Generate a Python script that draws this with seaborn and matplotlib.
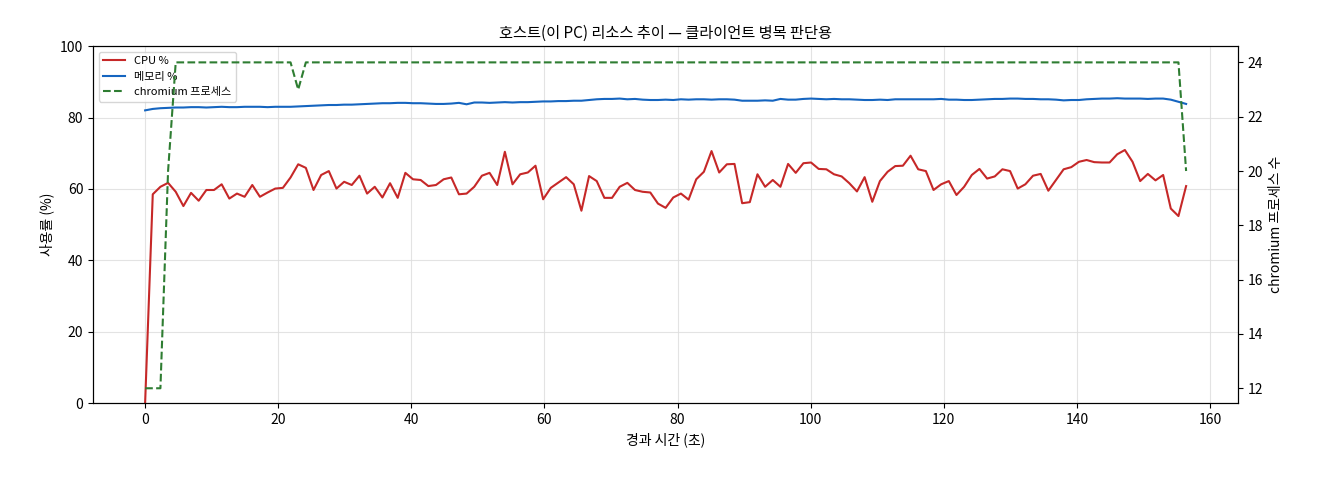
import numpy as np
import pandas as pd
import matplotlib
matplotlib.use("Agg")
import matplotlib.pyplot as plt
import seaborn as sns

cpu = [0, 58.5,60.6,61.7,59.2,55.2,58.9,56.7,59.7,59.7,61.3,57.3,58.7,57.8,61.1,57.8,59,60.1,60.3,63.2,66.9,65.9,59.7,63.9,65,60.1,62,61.1,63.7,58.7,60.6,57.6,61.6,57.5,64.5,62.7,62.5,60.8,61.1,62.7,63.2,58.5,58.7,
       60.6,63.7,64.5,61.1,70.4,61.3,64.1,64.6,66.5,57.1,60.3,61.8,63.3,61.3,53.9,63.6,62.2,57.5,57.5,60.6,61.7,59.7,59.2,59,55.9,54.7,57.6,58.7,57,62.7,64.8,70.6,64.6,66.9,67,56,56.3,64.1,60.6,62.5,60.6,67,64.5,67.2,67.4,65.6,65.5,
       64.1,63.5,61.6,59.3,63.3,56.4,62.2,64.8,66.4,66.5,69.3,65.5,65,59.7,61.3,62.2,58.3,60.6,63.9,65.6,62.9,63.5,65.5,65,60.1,61.3,63.7,64.2,59.5,62.5,65.5,66.1,67.6,68.1,67.5,67.4,67.4,69.7,70.9,67.6,62.2,64.2,62.4,63.9,54.5,52.4,60.8]
mem = [82.0,82.4,82.6,82.7,82.8,82.8,82.9,82.9,82.8,82.9,83.0,82.9,82.9,83.0,83.0,83.0,82.9,83.0,83.0,83.0,
       83.1,83.2,83.3,83.4,83.5,83.5,83.6,83.6,83.7,83.8,83.9,84.0,84.0,84.1,84.1,84.0,84.0,83.9,83.8,83.8,
       83.9,84.1,83.7,84.2,84.2,84.1,84.2,84.3,84.2,84.3,84.3,84.4,84.5,84.5,84.6,84.6,84.7,84.7,84.9,85.1,
       85.2,85.2,85.3,85.1,85.2,85.0,84.9,84.9,85.0,84.9,85.1,85.0,85.1,85.1,85.0,85.1,85.1,85.0,84.7,84.7,
       84.7,84.8,84.7,85.2,85.0,85.0,85.2,85.3,85.2,85.1,85.2,85.1,85.1,85.0,84.9,84.9,85.0,84.9,85.1,85.1,
       85.1,85.1,85.1,85.1,85.2,85.0,85.0,84.9,84.9,85.0,85.1,85.2,85.2,85.3,85.3,85.2,85.2,85.1,85.1,85.0,
       84.8,84.9,84.9,85.1,85.2,85.3,85.3,85.4,85.3,85.3,85.3,85.2,85.3,85.3,85.0,84.4,83.8]
chromium = [12,12,12,20] + [24]*16 + [23] + [24]*115 + [20]
t_end = 156.4

n = len(cpu)
elapsed = np.linspace(0, t_end, n)
df = pd.DataFrame({"t": elapsed, "cpu": cpu, "mem": mem[:n], "chr": chromium[:n]})

plt.rcParams['font.family'] = ['Noto Sans CJK KR', 'DejaVu Sans']
plt.rcParams['axes.unicode_minus'] = False

fig, ax = plt.subplots(figsize=(13.2, 4.8), dpi=100)
fig.subplots_adjust(left=0.0705, right=0.938, top=0.904, bottom=0.16)
sns.lineplot(data=df, x="t", y="cpu", ax=ax, color="#c62828", lw=1.5, label="CPU %")
sns.lineplot(data=df, x="t", y="mem", ax=ax, color="#1565c0", lw=1.5, label="메모리 %")
ax2 = ax.twinx()
sns.lineplot(data=df, x="t", y="chr", ax=ax2, color="#2e7d32", lw=1.5, linestyle="--", label="chromium 프로세스")
ax.set_ylim(0, 100)
ax2.set_ylim(11.45, 24.6)
ax2.set_yticks([12, 14, 16, 18, 20, 22, 24])
ax.grid(True, color="#dddddd", lw=0.8, alpha=0.8)
ax.set_xlabel("경과 시간 (초)", fontsize=10)
ax.set_ylabel("사용률 (%)", fontsize=10)
ax2.set_ylabel("chromium 프로세스 수", fontsize=10)
ax.set_title("호스트(이 PC) 리소스 추이 — 클라이언트 병목 판단용", fontsize=11)
ax.tick_params(labelsize=10)
ax2.tick_params(labelsize=10)
h1, l1 = ax.get_legend_handles_labels()
h2, l2 = ax2.get_legend_handles_labels()
ax2.get_legend().remove()
ax.legend(h1 + h2, l1 + l2, loc="upper left", fontsize=8)
fig.savefig("out.png", dpi=100)
